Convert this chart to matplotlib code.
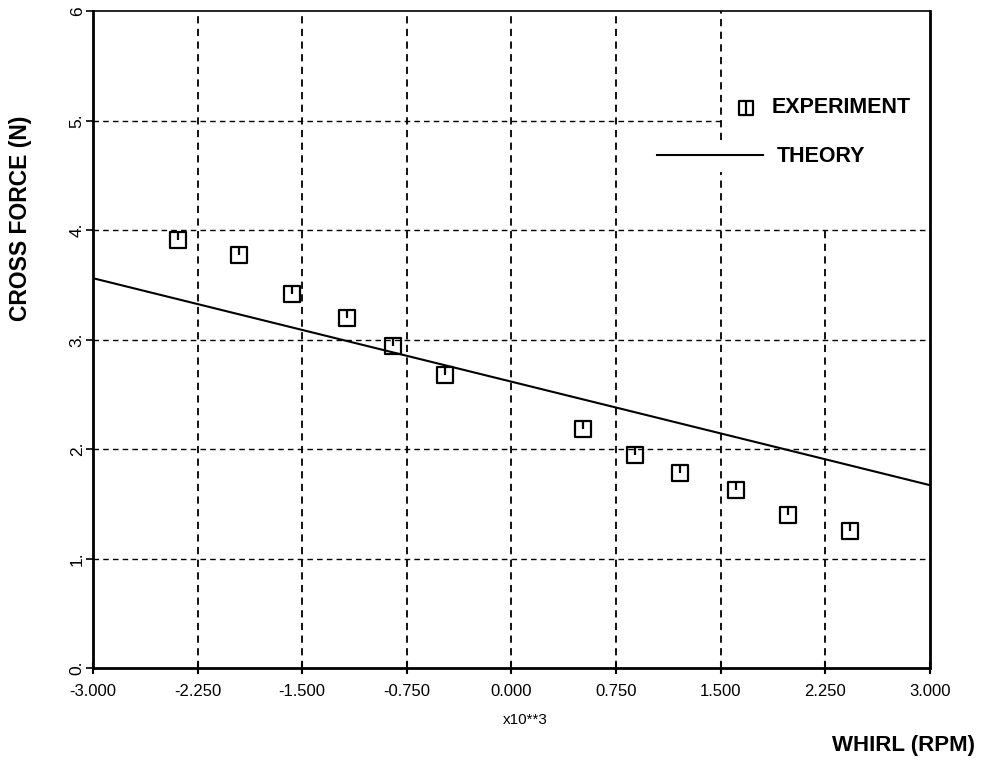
import matplotlib
matplotlib.use('Agg')
import matplotlib.pyplot as plt
import numpy as np
from matplotlib.path import Path
from matplotlib.lines import Line2D

plt.rcParams['font.family'] = ['Liberation Sans', 'DejaVu Sans']
plt.rcParams['axes.unicode_minus'] = False

# whirl speed in thousands of RPM, cross force in N
exp_whirl = [-2.39, -1.95, -1.57, -1.18, -0.85, -0.48, 0.51, 0.885, 1.21, 1.61, 1.98, 2.43]
exp_force = [3.91, 3.77, 3.42, 3.20, 2.94, 2.68, 2.18, 1.95, 1.78, 1.63, 1.40, 1.25]

theory_whirl = [-3.0, 3.0]
theory_force = [3.56, 1.67]

x_ticks = [-3.0, -2.25, -1.5, -0.75, 0.0, 0.75, 1.5, 2.25, 3.0]
y_ticks = [0, 1, 2, 3, 4, 5, 6]
y_ticklabels = ['0.', '1.', '2.', '3.', '4.', '5.', '6']

# square marker with a short stroke hanging from the top
verts = [(-1, -1), (1, -1), (1, 1), (-1, 1), (-1, -1), (0, 1), (0, 0.05)]
codes = [Path.MOVETO, Path.LINETO, Path.LINETO, Path.LINETO, Path.CLOSEPOLY, Path.MOVETO, Path.LINETO]
box_marker = Path(verts, codes)
verts_leg = [(-1, -1), (1, -1), (1, 1), (-1, 1), (-1, -1), (0, 1), (0, -1)]
box_marker_leg = Path(verts_leg, codes)

fig = plt.figure(figsize=(9.81, 7.6), dpi=100)
ax = fig.add_axes([0.0948, 0.121, 0.8532, 0.8645])

ax.set_xlim(-3, 3)
ax.set_ylim(0, 6)

# grid (the top-right cell is left blank for the legend)
grid_kw = dict(colors='black', linestyles=(0, (4, 3)), linewidth=1.3, zorder=1)
for xv in x_ticks[1:-1]:
    if xv == 2.25:
        ax.vlines(xv, 0, 4, **grid_kw)
    elif xv == 1.5:
        ax.vlines(xv, 0, 4.53, **grid_kw)
        ax.vlines(xv, 4.82, 6, **grid_kw)
    else:
        ax.vlines(xv, 0, 6, **grid_kw)
hgrid_kw = dict(colors='black', linestyles=(0, (4, 3)), linewidth=1.0, zorder=1)
for yv in y_ticks[1:-1]:
    if yv == 5:
        ax.hlines(yv, -3, 1.5, **hgrid_kw)
    else:
        ax.hlines(yv, -3, 3, **hgrid_kw)

ax.plot(theory_whirl, theory_force, color='black', linewidth=1.5, zorder=3)
ax.plot(exp_whirl, exp_force, linestyle='none', marker=box_marker, markersize=11.5,
        markerfacecolor='none', markeredgecolor='black', markeredgewidth=1.6, zorder=4)

# legend drawn by hand, as in the original
ax.add_line(Line2D([0.780], [0.853], transform=ax.transAxes, linestyle='none',
                   marker=box_marker_leg, markersize=10, markerfacecolor='none',
                   markeredgecolor='black', markeredgewidth=1.6))
ax.text(0.811, 0.853, 'EXPERIMENT', transform=ax.transAxes, fontsize=15.5,
        fontweight='bold', va='center', ha='left')
ax.add_line(Line2D([0.674, 0.800], [0.781, 0.781], transform=ax.transAxes,
                   color='black', linewidth=1.5))
ax.text(0.817, 0.778, 'THEORY', transform=ax.transAxes, fontsize=15.5,
        fontweight='bold', va='center', ha='left')

# axes
for side in ['left', 'bottom', 'right']:
    ax.spines[side].set_linewidth(2.0)
ax.spines['top'].set_linewidth(1.2)

ax.set_xticks(x_ticks)
ax.set_xticklabels([f'{v:.3f}' for v in x_ticks], fontsize=12)
ax.set_yticks(y_ticks)
ax.set_yticklabels(y_ticklabels, fontsize=12.5, rotation=90, va='center')
ax.tick_params(axis='x', direction='inout', length=9, width=1.5, pad=7)
ax.tick_params(axis='y', direction='out', length=5, width=1.2, pad=1)

fig.text(525 / 981, 1 - 720 / 760, 'x10**3', fontsize=11, ha='center', va='center')
fig.text(903 / 981, 1 - 745 / 760, 'WHIRL (RPM)', fontsize=16, fontweight='bold',
         ha='center', va='center')
fig.text(21 / 981, 1 - 218 / 760, 'CROSS FORCE (N)', fontsize=16.5, fontweight='bold',
         rotation=90, ha='center', va='center')

fig.savefig('out.png', dpi=100, facecolor='white')
plt.close(fig)
